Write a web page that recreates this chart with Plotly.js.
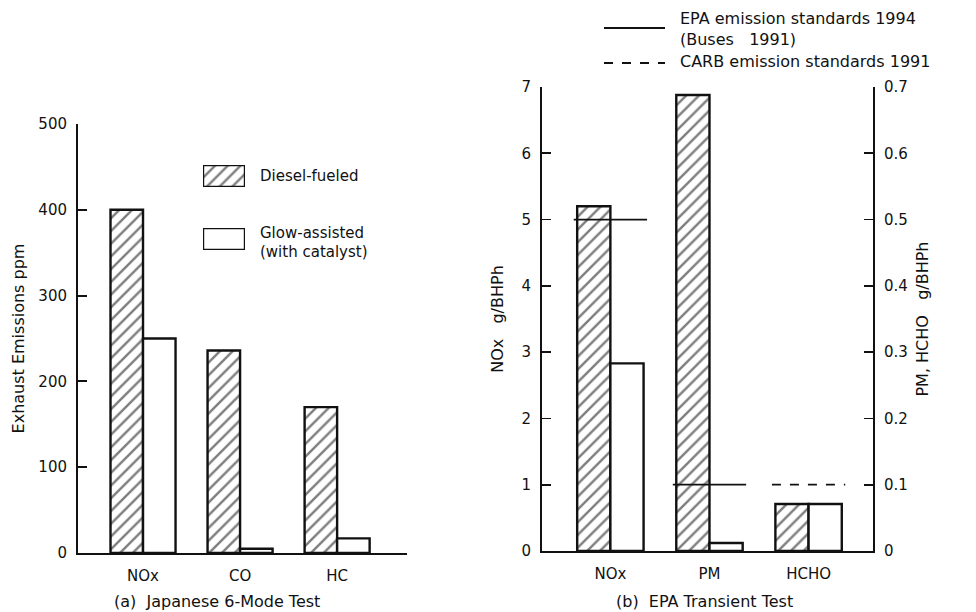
<!DOCTYPE html>
<html>
<head>
<meta charset="utf-8">
<script src="https://cdn.plot.ly/plotly-3.0.1.min.js"></script>
<style>html,body{margin:0;padding:0;background:#fff;}#chart{width:976px;height:612px;}</style>
</head>
<body>
<div id="chart"></div>
<script>
// ---- data ----
var leftCategories = ['NOx', 'CO', 'HC'];
var dieselJapan = [400, 236, 170];
var glowJapan = [250, 5, 17];

var rightCategories = ['NOx', 'PM', 'HCHO'];
var noxCategory = ['NOx'];
var dieselNOx = [5.2];
var glowNOx = [2.83];
var pmHchoCategories = ['PM', 'HCHO'];
var dieselPmHcho = [0.688, 0.071];
var glowPmHcho = [0.012, 0.071];

var standardCategories = ['NOx', 'PM', 'HCHO'];
var standardValues = [5.0, 0.1, 0.1];
var standardKinds = ['EPA', 'EPA', 'CARB'];

var legendSwatch = [1];

// ---- style ----
var FONT = 'DejaVu Sans, Noto Sans, sans-serif';
var INK = '#111';
var W = 976, H = 612;
function px(x) { return x / W; }
function py(y) { return 1 - y / H; }

var hatch = {shape: '/', fgcolor: '#000', bgcolor: '#fff', size: 9, solidity: 0.27, fillmode: 'overlay'};
var barLine = {color: INK, width: 2.4};

function dieselBar(x, y, xa, ya) {
  return {type: 'bar', x: x, y: y, xaxis: xa, yaxis: ya, offsetgroup: 'diesel', alignmentgroup: xa,
    marker: {color: '#fff', pattern: hatch, line: barLine}, showlegend: false, hoverinfo: 'skip', cliponaxis: false};
}
function glowBar(x, y, xa, ya) {
  return {type: 'bar', x: x, y: y, xaxis: xa, yaxis: ya, offsetgroup: 'glow', alignmentgroup: xa,
    marker: {color: '#fff', line: barLine}, showlegend: false, hoverinfo: 'skip', cliponaxis: false};
}

var traces = [
  dieselBar(leftCategories, dieselJapan, 'x', 'y'),
  glowBar(leftCategories, glowJapan, 'x', 'y'),
  dieselBar(noxCategory, dieselNOx, 'x2', 'y2'),
  glowBar(noxCategory, glowNOx, 'x2', 'y2'),
  dieselBar(pmHchoCategories, dieselPmHcho, 'x2', 'y3'),
  glowBar(pmHchoCategories, glowPmHcho, 'x2', 'y3'),
  // legend swatches
  {type: 'bar', x: [0], y: legendSwatch, width: 1, xaxis: 'x4', yaxis: 'y4',
    marker: {color: '#fff', pattern: hatch, line: barLine}, showlegend: false, hoverinfo: 'skip', cliponaxis: false},
  {type: 'bar', x: [0], y: legendSwatch, width: 1, xaxis: 'x5', yaxis: 'y5',
    marker: {color: '#fff', line: barLine}, showlegend: false, hoverinfo: 'skip', cliponaxis: false}
];

var tickFont = {family: FONT, size: 15, color: INK};
function yAxisBase(extra) {
  var a = {showline: true, linecolor: INK, linewidth: 2, ticks: 'inside', ticklen: 9, tickwidth: 1.8,
    tickcolor: INK, showgrid: false, zeroline: false, tickfont: tickFont, fixedrange: true, ticklabelstandoff: 6};
  for (var k in extra) a[k] = extra[k];
  return a;
}
function xAxisBase(extra) {
  var a = {type: 'category', showline: true, linecolor: INK, linewidth: 2, ticks: '', showgrid: false,
    zeroline: false, tickfont: tickFont, fixedrange: true, ticklabelstandoff: 8};
  for (var k in extra) a[k] = extra[k];
  return a;
}
function hidden(extra) {
  var a = {visible: false, fixedrange: true};
  for (var k in extra) a[k] = extra[k];
  return a;
}

// standards lines, positioned on the category axis by category index
var shapes = [];
standardCategories.forEach(function (c, i) {
  var idx = rightCategories.indexOf(c);
  shapes.push({type: 'line', xref: 'x2', yref: c === 'NOx' ? 'y2' : 'y3',
    x0: idx - 0.37, x1: idx + 0.37, y0: standardValues[i], y1: standardValues[i],
    line: {color: INK, width: 1.8, dash: standardKinds[i] === 'CARB' ? 'dash' : 'solid'}});
});
// right legend samples
shapes.push({type: 'line', xref: 'paper', yref: 'paper', x0: px(604), x1: px(665), y0: py(28), y1: py(28),
  line: {color: INK, width: 1.8}});
shapes.push({type: 'line', xref: 'paper', yref: 'paper', x0: px(604), x1: px(665), y0: py(63), y1: py(63),
  line: {color: INK, width: 1.8, dash: 'dash'}});

function ann(text, x, y, xanchor, size) {
  return {text: text, xref: 'paper', yref: 'paper', x: px(x), y: py(y), xanchor: xanchor || 'left',
    yanchor: 'middle', showarrow: false, font: {family: FONT, size: size || 15, color: INK}};
}

var annotations = [
  ann('Diesel-fueled', 258, 176),
  ann('Glow-assisted', 258, 233),
  ann('(with catalyst)', 258, 252),
  ann('EPA emission standards 1994', 678, 18, 'left', 16),
  ann('(Buses\u00a0\u00a0 1991)', 678, 40, 'left', 16),
  ann('CARB emission standards 1991', 678, 62, 'left', 16),
  ann('(a)\u00a0 Japanese 6-Mode Test', 217, 601, 'center', 16),
  ann('(b)\u00a0 EPA Transient Test', 704, 601, 'center', 16)
];

var titleFont = {family: FONT, size: 16, color: INK};
var layout = {
  width: W, height: H,
  margin: {l: 0, r: 0, t: 0, b: 0},
  paper_bgcolor: '#fff', plot_bgcolor: 'rgba(0,0,0,0)',
  font: {family: FONT, color: INK},
  barmode: 'group', bargap: 0.33, bargroupgap: 0,
  showlegend: false,
  xaxis: xAxisBase({domain: [px(78), px(407)], anchor: 'y', range: [-0.67, 2.72], categoryarray: leftCategories, categoryorder: 'array'}),
  yaxis: yAxisBase({domain: [py(553), py(124)], anchor: 'x', range: [0, 500], dtick: 100,
    title: {text: 'Exhaust Emissions ppm', font: titleFont, standoff: 10}}),
  xaxis2: xAxisBase({domain: [px(542), px(873)], anchor: 'y2', range: [-0.69, 2.65], categoryarray: rightCategories, categoryorder: 'array'}),
  yaxis2: yAxisBase({domain: [py(551), py(87)], anchor: 'x2', range: [0, 7], dtick: 1,
    title: {text: 'NOx\u00a0\u00a0 g/BHPh', font: titleFont, standoff: 14}}),
  yaxis3: yAxisBase({overlaying: 'y2', side: 'right', anchor: 'x2', range: [0, 0.7], dtick: 0.1,
    title: {text: 'PM, HCHO\u00a0\u00a0 g/BHPh', font: titleFont, standoff: 10}}),
  xaxis4: hidden({domain: [px(203), px(245)], anchor: 'y4', range: [-0.5, 0.5]}),
  yaxis4: hidden({domain: [py(187), py(165)], anchor: 'x4', range: [0, 1]}),
  xaxis5: hidden({domain: [px(203), px(245)], anchor: 'y5', range: [-0.5, 0.5]}),
  yaxis5: hidden({domain: [py(250), py(228)], anchor: 'x5', range: [0, 1]}),
  shapes: shapes,
  annotations: annotations
};

Plotly.newPlot('chart', traces, layout, {displayModeBar: false, staticPlot: true});
</script>
</body>
</html>
